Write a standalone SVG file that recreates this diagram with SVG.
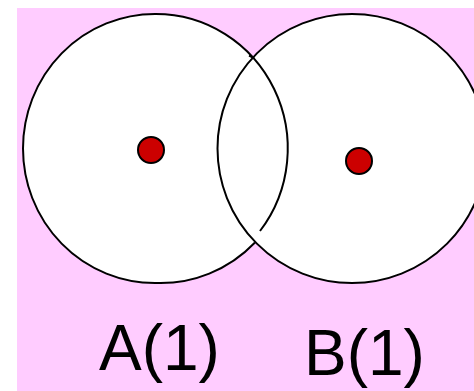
<svg xmlns="http://www.w3.org/2000/svg" width="474" height="391" viewBox="0 0 474 391">
<style>
.fill{fill:#fff;stroke:none}
.ring{fill:none;stroke:#000;stroke-width:2}
.dot{fill:#CC0000;stroke:#000;stroke-width:2}
.lbl{font-family:"Liberation Sans",Arial,sans-serif;font-size:64px;fill:#000}
</style>
<rect x="0" y="0" width="474" height="391" fill="#fff"/>
<rect x="17" y="8" width="457" height="383" fill="#FFCCFF"/>
<path class="fill" d="M 255 242.5 A 132 134.5 0 0 1 155 283 A 132 134.5 0 0 1 155 14 A 132 134.5 0 0 1 260 231 Z"/>
<circle class="fill" cx="352" cy="148.5" r="134.5"/>
<g id="setA">
<path class="ring" d="M 255 242.5 A 132 134.5 0 0 1 155 283 A 132 134.5 0 0 1 155 14 A 132 134.5 0 0 1 260 231"/>
<path class="ring" d="M 249 55.6 L 254 58"/>
<circle class="dot" cx="151" cy="150" r="13"/>
<text class="lbl" x="99" y="370">A(1)</text>
</g>
<g id="setB">
<circle class="ring" cx="352" cy="148.5" r="134.5"/>
<circle class="dot" cx="359" cy="161" r="13"/>
<text class="lbl" x="304" y="375">B(1)</text>
</g>
<g id="connectors"/>
</svg>
